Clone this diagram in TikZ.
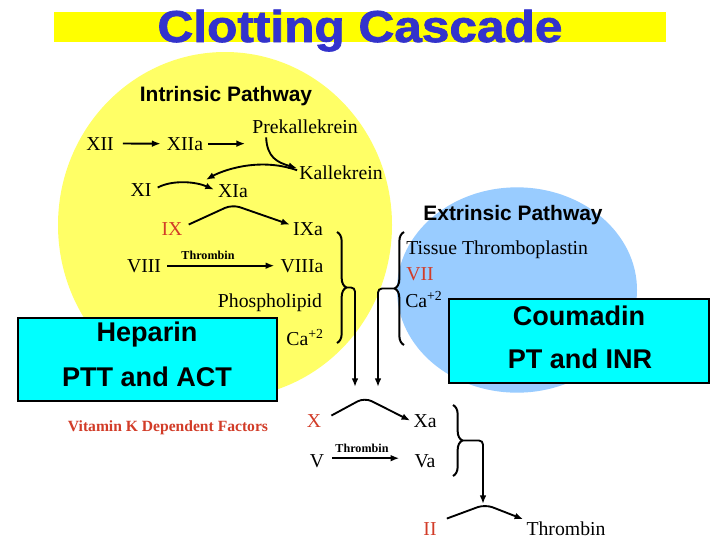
\documentclass[tikz,border=0pt]{standalone}
\usepackage{fontspec}
\usepackage{graphicx}
\setmainfont{Liberation Serif}
\newfontfamily\hsans{Liberation Sans}
\newfontfamily\titlefont{Liberation Sans}[BoldFeatures={FakeBold=1.6}]
\usetikzlibrary{arrows.meta,calc,decorations.pathreplacing}
\definecolor{titleyel}{RGB}{255,255,0}
\definecolor{titleblue}{RGB}{51,51,204}
\definecolor{intyel}{RGB}{255,255,102}
\definecolor{extblue}{RGB}{153,204,255}
\definecolor{boxcyan}{RGB}{0,255,255}
\definecolor{facred}{RGB}{210,60,40}
\begin{document}
\begin{tikzpicture}[x=0.75pt,y=-0.75pt,
  lbl/.style={font=\fontsize{14.8}{17}\selectfont, inner sep=0pt, anchor=base},
  smallthr/.style={font=\bfseries\fontsize{9.1}{10}\selectfont, inner sep=0pt, anchor=base},
  hdr/.style={font=\hsans\bfseries\fontsize{15.7}{18}\selectfont, inner sep=0pt, anchor=base},
  vitk/.style={font=\bfseries\fontsize{11.7}{13}\selectfont, text=facred, inner sep=0pt, anchor=base},
  redf/.style={text=facred},
  drugbox/.style={draw=black, line width=1.5pt, fill=boxcyan, inner sep=0pt},
  boxtxt/.style={font=\hsans\bfseries\fontsize{20.3}{24}\selectfont, inner sep=0pt, anchor=base},
  arr/.style={-{Latex[length=6.5pt,width=5pt]}, line width=1.4pt},
  bracestyle/.style={decorate, decoration={brace,amplitude=7pt}, line width=1.5pt}
]
\useasboundingbox (0,0) rectangle (720,540);
\fill[white] (0,0) rectangle (720,540);

% title
\fill[titleyel] (54,12) rectangle (666,42);
\node[font=\titlefont\bfseries\fontsize{33.5}{36}\selectfont, text=titleblue, inner sep=0pt, anchor=base] (title) at (360,42) {\scalebox{1.11}[1]{Clotting Cascade}};

% pathway backgrounds
\fill[extblue] (517,290) ellipse [x radius=90pt, y radius=77pt];
\fill[intyel] (225,225) ellipse [x radius=125.25pt, y radius=129.75pt];

% headers
\node[hdr] (intr) at (226,101) {Intrinsic Pathway};
\node[hdr] (extr) at (513,220) {Extrinsic Pathway};

% intrinsic labels
\node[lbl] (XII) at (100,150) {XII};
\node[lbl] (XIIa) at (185,150) {XIIa};
\node[lbl] (prek) at (305,133) {Prekallekrein};
\node[lbl] (kall) at (341,179) {Kallekrein};
\node[lbl] (XI) at (141,196) {XI};
\node[lbl] (XIa) at (233,197) {XIa};
\node[lbl,redf] (IX) at (172,235) {IX};
\node[lbl] (IXa) at (308,235) {IXa};
\node[smallthr] (thr1) at (208,259) {Thrombin};
\node[lbl] (VIII) at (144,272) {VIII};
\node[lbl] (VIIIa) at (302,272) {VIIIa};
\node[lbl] (phos) at (270,307) {Phospholipid};
\node[lbl] (ca1) at (305,345) {Ca\textsuperscript{+2}};

% extrinsic labels
\node[lbl,anchor=base west] (tiss) at (406,254) {Tissue Thromboplastin};
\node[lbl,anchor=base west,redf] (VII) at (406,280) {VII};
\node[lbl,anchor=base west] (ca2) at (405,307) {Ca\textsuperscript{+2}};

% drug boxes
\node[drugbox, minimum width=194.25pt, minimum height=62.25pt] (hepbox) at (147.5,359.5) {};
\node[boxtxt] (hep) at (147,341) {Heparin};
\node[boxtxt] (ptt) at (147,386) {PTT and ACT};
\node[drugbox, minimum width=195pt, minimum height=63pt] (coubox) at (579,341) {};
\node[boxtxt] (cou) at (579,325) {Coumadin};
\node[boxtxt] (pt) at (580,368) {PT and INR};

\node[vitk] (vit) at (168,431) {Vitamin K Dependent Factors};

% common pathway labels
\node[lbl,redf] (X) at (314,427) {X};
\node[lbl] (Xa) at (425,427) {Xa};
\node[lbl] (V) at (317,467) {V};
\node[smallthr] (thr2) at (362,452) {Thrombin};
\node[lbl] (Va) at (425,467) {Va};
\node[lbl,redf] (II) at (430,535) {II};
\node[lbl] (thr3) at (566,535) {Thrombin};

% intrinsic arrows
\draw[arr] ($(XII.east)+(9,0)$) -- ($(XIIa.west)+(-6,0)$);
\draw[arr] ($(XIIa.east)+(5,0)$) -- ($(prek.west |- XIIa.east)+(-7,0)$);
\draw[arr] ($(prek.south west)+(14,4)$) .. controls +(1,20) and +(-20,-6) .. ($(kall.west)+(-2,-4)$);
\draw[arr] ($(kall.west)+(-2,-2)$) .. controls +(-40,-14) and +(14,-8) .. ($(XIa.north west)+(-12,-4)$);
\draw[arr] ($(XI.east)+(6,-2)$) .. controls +(15,-8) and +(-18,-8) .. ($(XIa.west)+(-4,-1)$);
\draw[arr, rounded corners=6pt] ($(IX.east)+(6,-4)$) -- ($(IX.east)!0.45!(IXa.west)+(0,-24)$) -- ($(IXa.west)+(-3,-4)$);
\draw[arr] ($(VIII.east)+(6,0)$) -- ($(VIIIa.west)+(-6,0)$);

% braces and joining arrows
\draw[bracestyle] (337,232) -- (337,343);
\draw[bracestyle] (404,345) -- (404,232);
\draw[bracestyle] (453,405) -- (453,476);
\coordinate (b1) at (346,287.5);
\coordinate (b2) at (395,288.5);
\coordinate (b3) at (462,440.5);
\coordinate (d1) at (355,387);
\coordinate (d2) at (378,387);
\coordinate (d3) at (483,504);
\draw[arr, rounded corners=3pt] (b1) -| (d1);
\draw[arr, rounded corners=3pt] (b2) -| (d2);
\draw[arr, rounded corners=3pt] (b3) -| (d3);

% common pathway arrows
\draw[arr, rounded corners=6pt] ($(X.east)+(10,-5)$) -- ($(X.east)!0.47!(Xa.west)+(0,-23)$) -- ($(Xa.west)+(-3,0)$);
\draw[arr] ($(V.east)+(8,-2.5)$) -- ($(Va.west)+(-15,-2.5)$);
\draw[arr, rounded corners=6pt] ($(II.east)+(10,-10)$) -- ($(II.east)!0.54!(thr3.west)+(0,-24)$) -- ($(thr3.west)+(-3,-9)$);
\end{tikzpicture}
\end{document}
